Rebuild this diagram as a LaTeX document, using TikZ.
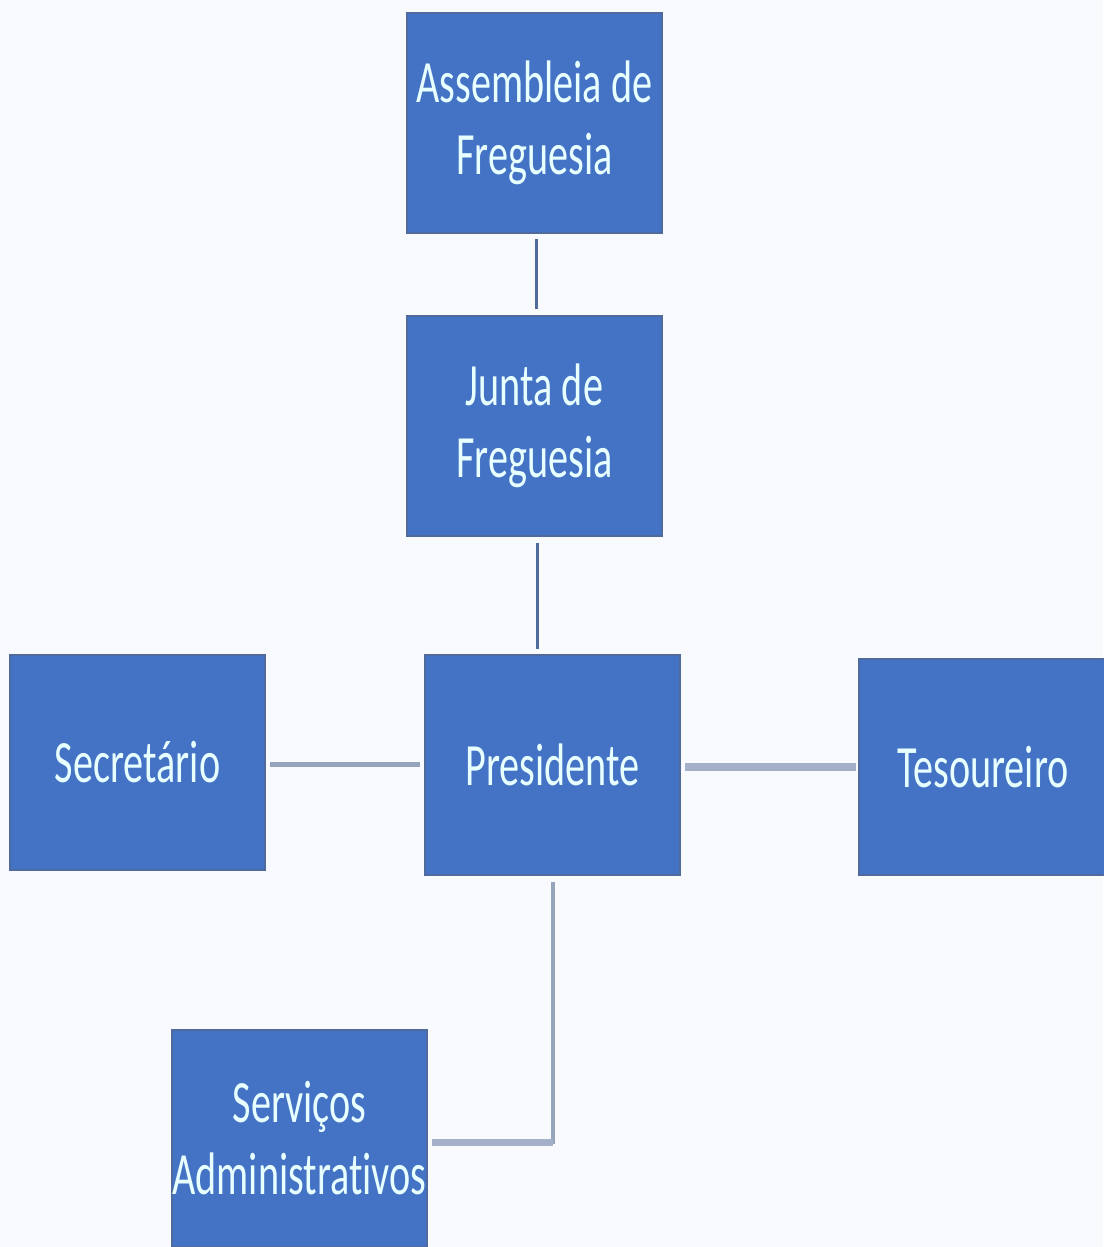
\documentclass[tikz,border=0pt]{standalone}
\usepackage{fontspec}
\usetikzlibrary{calc}
\newfontfamily\boxfont[FakeStretch=0.67,Ligatures=NoCommon]{Carlito}
\definecolor{bg}{HTML}{F8FAFE}
\definecolor{boxfill}{HTML}{4472C4}
\definecolor{boxline}{HTML}{4F6A9C}
\definecolor{boxtext}{HTML}{E8FFFF}
\definecolor{darkcon}{HTML}{4F6A9C}
\definecolor{graycon}{HTML}{96A4BC}
\definecolor{lightcon}{HTML}{A4B0C8}
\begin{document}
\begin{tikzpicture}[x=1pt,y=-1pt,
  orgbox/.style={draw=boxline,line width=1.5pt,fill=boxfill,text=boxtext,
    font=\boxfont\fontsize{60}{72}\selectfont,align=center,inner sep=0pt},
  thincon/.style={draw=darkcon,line width=3pt},
  widecon/.style={draw=graycon,line width=5pt},
  thickcon/.style={draw=lightcon,line width=8pt}]
\fill[bg] (0,0) rectangle (1103,1247);
\useasboundingbox (0,0) rectangle (1103,1247);
\node[orgbox,minimum width=255pt,minimum height=220pt] (asm) at (534.5,123) {Assembleia de\\Freguesia};
\node[orgbox,minimum width=255pt,minimum height=220pt] (junta) at (534.5,426) {Junta de\\Freguesia};
\node[orgbox,minimum width=255pt,minimum height=220pt] (pres) at (552.5,765) {Presidente};
\node[orgbox,minimum width=255pt,minimum height=215pt] (sec) at (137.5,762.5) {Secret\'ario};
\node[orgbox,minimum width=248pt,minimum height=216pt] (tes) at (983,767) {Tesoureiro};
\node[orgbox,minimum width=255pt,minimum height=217pt] (serv) at (299.5,1138.5) {Servi\c{c}os\\Administrativos};
\draw[thincon] ($(asm.south)+(1.5,5)$) -- ($(asm.south |- junta.north)+(1.5,-6)$);
\draw[thincon] ($(junta.south)+(2.5,6)$) -- ($(junta.south |- pres.north)+(2.5,-5)$);
\draw[widecon] ($(sec.east)+(4,1.5)$) -- ($(sec.east -| pres.west)+(-4,1.5)$);
\draw[thickcon] ($(pres.east)+(4,2)$) -- ($(pres.east -| tes.west)+(-2,2)$);
\coordinate (corner) at ($(pres.south |- serv.east)+(0.5,3.5)$);
\draw[graycon,line width=4pt] ($(pres.south)+(0.5,6)$) -- ($(corner)+(0,2)$);
\draw[thickcon,line width=7pt] (corner) -- ($(serv.east)+(4,3.5)$);
\end{tikzpicture}
\end{document}
